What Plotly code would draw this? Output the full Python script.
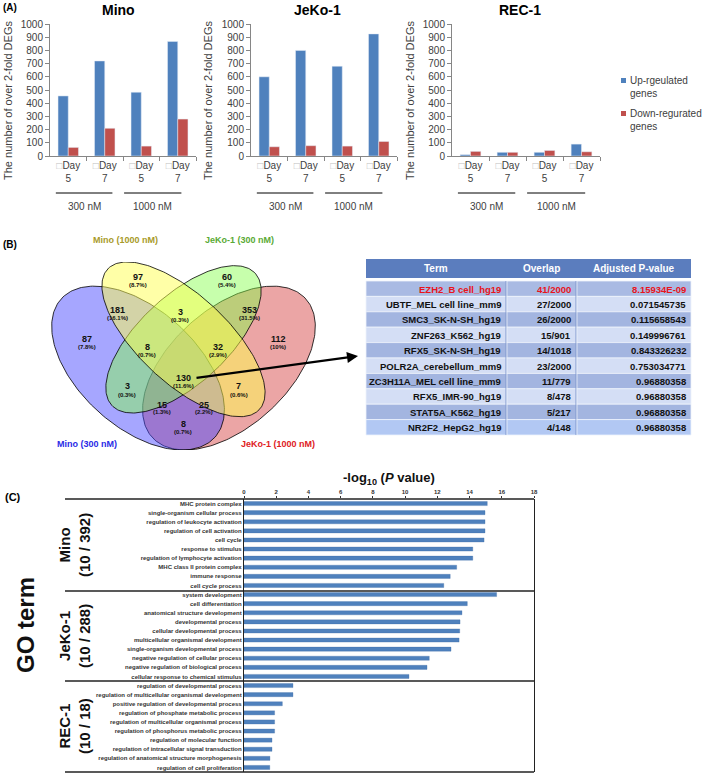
import numpy as np
import plotly.graph_objects as go

W, H = 709, 774
FONT = "Liberation Sans, Arial, sans-serif"


def px(x):
    return x / W


def py(y):
    return 1 - y / H


# ---------------- Panel A data ----------------
day_labels = ["Day<br>5", "Day<br>7", "Day<br>5", "Day<br>7"]
dose_labels = ["300 nM", "1000 nM"]
cell_lines = ["Mino", "JeKo-1", "REC-1"]
mino_up = [455, 720, 483, 868]
mino_down = [65, 210, 75, 280]
jeko_up = [600, 800, 680, 925]
jeko_down = [70, 78, 75, 110]
rec_up = [10, 28, 28, 90]
rec_down = [35, 28, 42, 32]
legend_names = ["Up-rgeulated<br>genes", "Down-regurated<br>genes"]
y_ticks = list(range(0, 1001, 100))

# ---------------- Panel B data ----------------
venn_set_names = ["Mino (300 nM)", "Mino (1000 nM)", "JeKo-1 (300 nM)", "JeKo-1 (1000 nM)"]
venn_counts = [87, 97, 60, 112, 181, 3, 353, 8, 32, 3, 130, 7, 15, 25, 8]
venn_pcts = ["7.8%", "8.7%", "5.4%", "10%", "16.1%", "0.3%", "31.5%", "0.7%",
             "2.9%", "0.3%", "11.6%", "0.6%", "1.3%", "2.2%", "0.7%"]

tf_terms = ["EZH2_B cell_hg19", "UBTF_MEL cell line_mm9", "SMC3_SK-N-SH_hg19",
            "ZNF263_K562_hg19", "RFX5_SK-N-SH_hg19", "POLR2A_cerebellum_mm9",
            "ZC3H11A_MEL cell line_mm9", "RFX5_IMR-90_hg19", "STAT5A_K562_hg19",
            "NR2F2_HepG2_hg19"]
tf_overlap = ["41/2000", "27/2000", "26/2000", "15/901", "14/1018", "23/2000",
              "11/779", "8/478", "5/217", "4/148"]
tf_padj = ["8.15934E-09", "0.071545735", "0.115658543", "0.149996761", "0.843326232",
           "0.753034771", "0.96880358", "0.96880358", "0.96880358", "0.96880358"]
tf_header = ["Term", "Overlap", "Adjusted P-value"]

# ---------------- Panel C data ----------------
go_groups = ["Mino<br>(10 / 392)", "JeKo-1<br>(10 / 288)", "REC-1<br>(10 / 18)"]
mino_terms = ["MHC protein complex", "single-organism cellular process",
              "regulation of leukocyte activation", "regulation of cell activation",
              "cell cycle", "response to stimulus", "regulation of lymphocyte activation",
              "MHC class II protein complex", "immune response", "cell cycle process"]
mino_vals = [15.1, 14.96, 14.96, 14.96, 14.9, 14.2, 14.2, 13.2, 12.8, 12.4]
jeko_terms = ["system development", "cell differentiation", "anatomical structure development",
              "developmental process", "cellular developmental process",
              "multicellular organismal development", "single-organism developmental process",
              "negative regulation of cellular process", "negative regulation of biological process",
              "cellular response to chemical stimulus"]
jeko_vals = [15.68, 13.86, 13.53, 13.41, 13.39, 13.35, 12.85, 11.5, 11.36, 10.24]
rec_terms = ["regulation of developmental process",
             "regulation of multicellular organismal development",
             "positive regulation of developmental process",
             "regulation of phosphate metabolic process",
             "regulation of multicellular organismal process",
             "regulation of phosphorus metabolic process",
             "regulation of molecular function",
             "regulation of intracellular signal transduction",
             "regulation of anatomical structure morphogenesis",
             "regulation of cell proliferation"]
rec_vals = [3.04, 3.04, 2.38, 1.9, 1.9, 1.9, 1.74, 1.74, 1.61, 1.6]
go_x_ticks = list(range(0, 19, 2))

# ---------------- styles ----------------
BLUE = "#4F81BD"
RED = "#C0504D"
AX = "#868686"
TXT = "#404040"

fig = go.Figure()
annotations = []
shapes = []


def note(text, x, y, size, color="#111", angle=0, xanchor="center", yanchor="middle",
         align="center", xref="paper", yref="paper"):
    annotations.append(dict(text=text, x=x, y=y, xref=xref, yref=yref, showarrow=False,
                            xanchor=xanchor, yanchor=yanchor, align=align, textangle=angle,
                            font=dict(size=size, color=color)))


# ---------------- Panel A ----------------
panelA = [(mino_up, mino_down, "x", "y", "xaxis", "yaxis", 50, 196, 118, 8),
          (jeko_up, jeko_down, "x2", "y2", "xaxis2", "yaxis2", 251, 397, 317, 208),
          (rec_up, rec_down, "x3", "y3", "xaxis3", "yaxis3", 452, 600, 520, 410)]
xpos = list(range(len(day_labels)))
ticktext = ["<span style='color:#c0c0c0'>\u25a1</span>" + d for d in day_labels]
layout_axes = {}
for i, (up, down, xa, ya, xk, yk, x0, x1, tx, ytx) in enumerate(panelA):
    fig.add_trace(go.Bar(x=xpos, y=up, marker_color=BLUE, xaxis=xa, yaxis=ya,
                         showlegend=False, name=legend_names[0]))
    fig.add_trace(go.Bar(x=xpos, y=down, marker_color=RED, xaxis=xa, yaxis=ya,
                         showlegend=False, name=legend_names[1]))
    layout_axes[xk] = dict(domain=[px(x0), px(x1)], anchor=ya, range=[-0.5, 3.5],
                           tickmode="array", tickvals=xpos, ticktext=ticktext,
                           ticks="", showline=True, linecolor=AX, linewidth=1,
                           tickfont=dict(size=10, color=TXT), showgrid=False,
                           zeroline=False, fixedrange=True, automargin=False,
                           minor=dict(tickmode="array", tickvals=[0.5, 1.5, 2.5, 3.5],
                                      ticks="outside", ticklen=4, tickcolor=AX,
                                      showgrid=False))
    layout_axes[yk] = dict(domain=[py(156), py(24)], anchor=xa, range=[0, 1000],
                           tickmode="array", tickvals=y_ticks,
                           ticks="outside", ticklen=4, tickcolor=AX,
                           showline=True, linecolor=AX, linewidth=1,
                           tickfont=dict(size=10, color=TXT), showgrid=False,
                           zeroline=False, fixedrange=True, automargin=False)
    note("<b>%s</b>" % cell_lines[i], px(tx), py(10), 14, "black")
    note("The number of over 2-fold DEGs", px(ytx), py(101), 11, TXT, angle=-90)
    for (a, b) in [(-0.34, 1.21), (1.53, 3.1)]:
        shapes.append(dict(type="line", xref=xa, yref="paper", x0=a, x1=b,
                           y0=py(193), y1=py(193), line=dict(color="black", width=1)))
    for j, cx in enumerate([0.44, 2.32]):
        note(dose_labels[j], cx, py(206), 10, TXT, xref=xa)

# manual legend
for j, (col, ytop) in enumerate([(BLUE, 78), (RED, 111)]):
    shapes.append(dict(type="rect", xref="paper", yref="paper", x0=px(621), x1=px(626),
                       y0=py(ytop + 5), y1=py(ytop), fillcolor=col, line=dict(width=0)))
    note(legend_names[j], px(628), py(ytop - 5), 10, TXT, xanchor="left", yanchor="top",
         align="left")

note("<b>(A)</b>", px(1), py(8), 10, "black", xanchor="left")
note("<b>(B)</b>", px(1), py(244), 10, "black", xanchor="left")
note("<b>(C)</b>", px(3), py(497), 11, "black", xanchor="left")

# ---------------- Panel B: Venn ----------------
ellipses = [  # cx, cy, a, b, rotation, fill
    (0.65, 0.47, 0.35, 0.20, 45, "rgba(215,75,75,0.5)"),
    (0.35, 0.47, 0.35, 0.20, 135, "rgba(70,70,255,0.48)"),
    (0.50, 0.57, 0.33, 0.15, 45, "rgba(130,255,70,0.45)"),
    (0.50, 0.57, 0.35, 0.15, 135, "rgba(255,255,80,0.5)"),
]
t = np.linspace(0, 2 * np.pi, 241)
for cx, cy, a, b, rot, fc in ellipses:
    th = np.deg2rad(rot)
    ex = cx + a * np.cos(t) * np.cos(th) - b * np.sin(t) * np.sin(th)
    ey = cy + a * np.cos(t) * np.sin(th) + b * np.sin(t) * np.cos(th)
    fig.add_trace(go.Scatter(x=ex, y=ey, mode="lines", fill="toself", fillcolor=fc,
                             line=dict(color="black", width=0.8), xaxis="x4", yaxis="y4",
                             showlegend=False, hoverinfo="skip"))
layout_axes["xaxis4"] = dict(domain=[px(32), px(335)], anchor="y4", range=[0, 1], visible=False,
                             fixedrange=True, automargin=False)
layout_axes["yaxis4"] = dict(domain=[py(450), py(262)], anchor="x4", range=[0.185, 0.839],
                             visible=False, fixedrange=True, automargin=False)

venn_label_pos = [(87, 339), (138, 277), (227, 277), (278, 339), (117, 310), (180, 312),
                  (249, 310), (147, 347), (218, 347), (127, 387), (183, 378), (239, 387),
                  (162, 405), (204, 405), (183, 424)]
for (lx, ly), c, p in zip(venn_label_pos, venn_counts, venn_pcts):
    note("<b>%d</b>" % c, px(lx), py(ly - 0.5), 9, "#111")
    note("<b>(%s)</b>" % p, px(lx), py(ly + 7.5), 6, "#111")

venn_name_pos = [(87, 444, "#2a2ae6"), (125, 240, "#a89a2a"), (240, 240, "#5aaa35"),
                 (278, 444, "#e0201e")]
for name, (lx, ly, col) in zip(venn_set_names, venn_name_pos):
    note("<b>%s</b>" % name, px(lx), py(ly), 9, col)

# arrow from center region to table
annotations.append(dict(text="", x=px(358), y=py(356), xref="paper", yref="paper",
                        ax=195 - 358, ay=378 - 356, showarrow=True, arrowhead=2,
                        arrowsize=1, arrowwidth=2.2, arrowcolor="black"))

# ---------------- Panel B: table (drawn with shapes + text) ----------------
col_edges = [366, 506, 576, 691]
header_top, header_bot = 259, 278
row_top0, row_h = 281, 15.4
row_fills = ["#A9BAE3", "#D4DEF5", "#A3B5E0", "#D4DEF5", "#A3B5E0", "#D4DEF5",
             "#A3B5E0", "#D4DEF5", "#A3B5E0", "#B2C8F3"]
font_cols = ["#E8141B"] + ["#111111"] * 9
shapes.append(dict(type="rect", xref="paper", yref="paper", x0=px(col_edges[0]),
                   x1=px(col_edges[-1]), y0=py(header_bot), y1=py(header_top),
                   fillcolor="#5B7DBE", line=dict(width=0)))
for k, h in enumerate(tf_header):
    note("<b>%s</b>" % h, px((col_edges[k] + col_edges[k + 1]) / 2),
         py((header_top + header_bot) / 2), 10, "white")
table_cols = [tf_terms, tf_overlap, tf_padj]
for r in range(len(tf_terms)):
    y0 = row_top0 + r * row_h
    shapes.append(dict(type="rect", xref="paper", yref="paper", x0=px(col_edges[0]),
                       x1=px(col_edges[-1]), y0=py(y0 + row_h), y1=py(y0),
                       fillcolor=row_fills[r], line=dict(color="#EEF2FB", width=0.8)))
    for k, colvals in enumerate(table_cols):
        note("<b>%s</b>" % colvals[r], px(col_edges[k + 1] - 3), py(y0 + row_h / 2 + 0.5),
             9.5, font_cols[r], xanchor="right")
table_bottom = row_top0 + len(tf_terms) * row_h
for xe in col_edges[1:-1]:
    shapes.append(dict(type="line", xref="paper", yref="paper", x0=px(xe), x1=px(xe),
                       y0=py(table_bottom), y1=py(row_top0),
                       line=dict(color="#7E97CC", width=1)))
    shapes.append(dict(type="line", xref="paper", yref="paper", x0=px(xe + 1), x1=px(xe + 1),
                       y0=py(table_bottom), y1=py(row_top0),
                       line=dict(color="#EEF2FB", width=0.8)))

# ---------------- Panel C ----------------
go_terms = mino_terms + jeko_terms + rec_terms
go_vals = mino_vals + jeko_vals + rec_vals
rows = list(range(len(go_terms)))
fig.add_trace(go.Bar(x=go_vals, y=rows, orientation="h", width=0.45, marker_color=BLUE,
                     marker_line=dict(color="#3d6aa3", width=0.3),
                     xaxis="x5", yaxis="y5", showlegend=False))
layout_axes["xaxis5"] = dict(domain=[px(244), px(534)], anchor="y5", side="top", range=[0, 18],
                             tickmode="array", tickvals=go_x_ticks,
                             ticktext=["<b>%d</b>" % v for v in go_x_ticks],
                             tickfont=dict(size=6, color="#333"), ticks="outside", ticklen=2,
                             tickcolor="#333", showline=False, showgrid=False, zeroline=False,
                             fixedrange=True, automargin=False)
layout_axes["yaxis5"] = dict(domain=[py(772), py(499)], anchor="x5", range=[29.5, -0.5],
                             tickmode="array", tickvals=rows,
                             ticktext=["<b>%s</b>" % s for s in go_terms],
                             tickfont=dict(size=6, color="#333"), ticks="",
                             showline=True, mirror=True, linecolor="#222", linewidth=1.2,
                             showgrid=False, zeroline=False, fixedrange=True, automargin=False)
for yline in [499, 591, 681, 772]:
    shapes.append(dict(type="line", xref="paper", yref="paper", x0=px(65), x1=px(534),
                       y0=py(yline), y1=py(yline), line=dict(color="#222", width=1.5)))
for g, yc in zip(go_groups, [545, 636, 726]):
    note("<b>%s</b>" % g.replace("<br>", "</b><br><b>"), px(74), py(yc), 15, "#111", angle=-90)
note("<b>GO term</b>", px(25), py(625), 24, "#111", angle=-90)
note("<b>-log<sub>10</sub> (<i>P</i> value)</b>", px(389), py(479), 13, "#111")

fig.update_layout(
    width=W, height=H, margin=dict(l=0, r=0, t=0, b=0, autoexpand=False),
    paper_bgcolor="white", plot_bgcolor="white",
    font=dict(family=FONT, color=TXT),
    barmode="group", bargap=0.44, bargroupgap=0,
    showlegend=False, annotations=annotations, shapes=shapes,
    **layout_axes,
)
fig.write_html("out.html", config={"displayModeBar": False},
               post_script="document.body.style.margin='0';document.body.style.overflow='hidden';")
